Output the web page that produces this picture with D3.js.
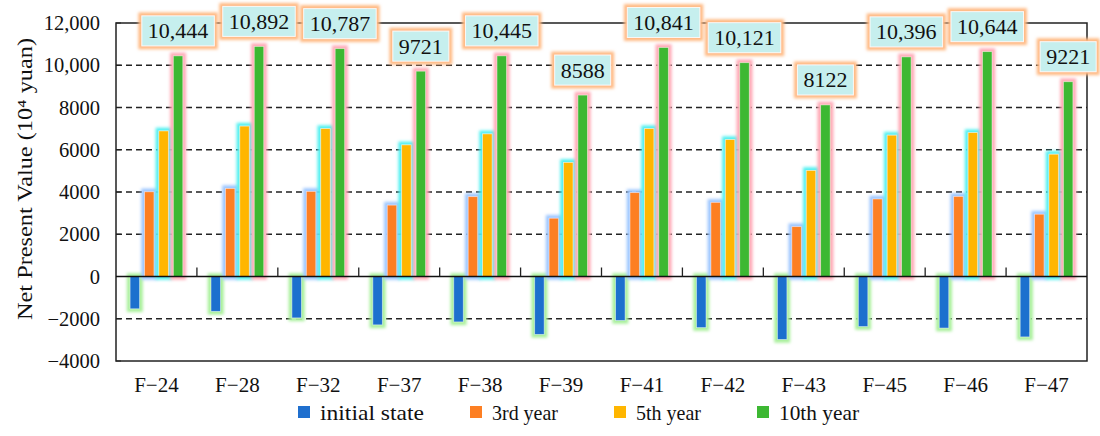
<!DOCTYPE html>
<html><head><meta charset="utf-8">
<script src="https://cdn.jsdelivr.net/npm/d3@7/dist/d3.min.js"></script>
<style>
html,body{margin:0;padding:0;background:#fff;}
svg{display:block;font-family:"Liberation Serif","Times New Roman",serif;}
</style></head>
<body>
<svg id="chart" width="1100" height="436"></svg>
<script>
const categories = ["F\u221224","F\u221228","F\u221232","F\u221237","F\u221238","F\u221239","F\u221241","F\u221242","F\u221243","F\u221245","F\u221246","F\u221247"];
const seriesNames = ["initial state","3rd year","5th year","10th year"];
const initialState = [-1530,-1650,-1960,-2290,-2150,-2740,-2080,-2420,-2980,-2370,-2440,-2860];
const year3 = [4010,4170,4030,3380,3780,2760,3970,3510,2360,3670,3790,2950];
const year5 = [6890,7120,7000,6230,6750,5400,7000,6480,5020,6690,6810,5790];
const year10 = [10444,10892,10787,9721,10445,8588,10841,10121,8122,10396,10644,9221];
const yTicks = [-4000,-2000,0,2000,4000,6000,8000,10000,12000];
const yLabel = "Net Present Value (10\u2074 yuan)";

const colors = ["#1f6fce","#fd7f23","#ffb600","#3db833"];
const glowColors = ["#a8f09a","#9cc6ff","#4ff0f0","#ffaab6"];

const svg = d3.select("#chart");
const L = 116, R = 1087, T = 23, B = 361;
const x0 = d3.scaleBand().domain(categories).range([L, R]).padding(0);
const y = d3.scaleLinear().domain([-4000, 12000]).range([B, T]);
const bw0 = x0.bandwidth();
const x1 = d3.scaleBand().domain(seriesNames).range([bw0*0.174, bw0*0.826]).paddingInner(0.34).paddingOuter(0);

const defs = svg.append("defs");
function glow(id, color, r, sd){
  const f = defs.append("filter").attr("id", id)
    .attr("x","-100%").attr("y","-100%").attr("width","300%").attr("height","300%");
  f.append("feMorphology").attr("in","SourceAlpha").attr("operator","dilate").attr("radius", r).attr("result","d");
  f.append("feGaussianBlur").attr("in","d").attr("stdDeviation", sd).attr("result","b");
  f.append("feFlood").attr("flood-color", color).attr("result","c");
  f.append("feComposite").attr("in","c").attr("in2","b").attr("operator","in").attr("result","g");
  const m = f.append("feMerge");
  m.append("feMergeNode").attr("in","g");
  m.append("feMergeNode").attr("in","SourceGraphic");
}
glowColors.forEach((c,i)=>glow("glow"+i, c, 2.8, 1.4));
glow("glowLabel", "#ffb982", 3.2, 1.6);

// grid
const grid = svg.append("g");
yTicks.filter(v => v !== 0 && v !== -4000 && v !== 12000).forEach(v => {
  grid.append("line").attr("x1", L).attr("x2", R).attr("y1", y(v)).attr("y2", y(v))
    .attr("stroke", "#222").attr("stroke-width", 1.3).attr("stroke-dasharray", "6,4");
});

// y axis labels
const yAxis = d3.axisLeft(y).tickValues(yTicks).tickSize(0).tickPadding(16)
  .tickFormat(v => (Math.abs(v) >= 10000 ? d3.format(",")(v) : String(v)).replace("-", "\u2212"));
const ya = svg.append("g").attr("transform", `translate(${L},0)`).call(yAxis);
ya.select(".domain").remove();
ya.selectAll("text").attr("font-size", 20.5).attr("fill", "#111").attr("font-family", "Liberation Serif");

// inner ticks on left axis
yTicks.forEach(v => {
  svg.append("line").attr("x1", L).attr("x2", L+5).attr("y1", y(v)).attr("y2", y(v)).attr("stroke","#222").attr("stroke-width",1);
});

// y label
svg.append("text").attr("transform", `translate(32,179) rotate(-90)`)
  .attr("text-anchor", "middle").attr("font-size", 21).attr("fill", "#111")
  .attr("textLength", 282).attr("lengthAdjust", "spacingAndGlyphs").text(yLabel);

// bars
const seriesData = [initialState, year3, year5, year10];
const barsG = svg.append("g");
seriesData.forEach((vals, si) => {
  barsG.append("g").selectAll("rect").data(vals).join("rect")
    .attr("x", (d,i) => x0(categories[i]) + x1(seriesNames[si]))
    .attr("width", x1.bandwidth())
    .attr("y", d => y(Math.max(0, d)))
    .attr("height", d => Math.abs(y(d) - y(0)))
    .attr("fill", colors[si])
    .attr("stroke", "rgba(255,255,255,0.55)").attr("stroke-width", 0.8)
    .attr("filter", `url(#glow${si})`);
});

// frame
svg.append("rect").attr("x", L).attr("y", T).attr("width", R-L).attr("height", B-T)
  .attr("fill","none").attr("stroke","#222").attr("stroke-width",1.5);
// zero line
svg.append("line").attr("x1", L).attr("x2", R).attr("y1", y(0)).attr("y2", y(0)).attr("stroke","#111").attr("stroke-width",1.5);
// category boundary ticks on zero line
categories.slice(1).forEach(c => {
  svg.append("line").attr("x1", x0(c)).attr("x2", x0(c)).attr("y1", y(0)).attr("y2", y(0)-9).attr("stroke","#222").attr("stroke-width",1.3);
});

// x axis labels
const xAxis = d3.axisBottom(x0).tickSize(0).tickPadding(0);
const xa = svg.append("g").attr("transform", `translate(0,${B})`).call(xAxis);
xa.select(".domain").remove();
xa.selectAll("text").attr("font-size", 21).attr("fill","#111").attr("dy", null).attr("y", 31).attr("font-family","Liberation Serif");

// value labels
const labG = svg.append("g");
year10.forEach((v, i) => {
  const cx = x0(categories[i]) + x1(seriesNames[3]) + x1.bandwidth()/2;
  const cy = y(v) - 25;
  const txt = v >= 10000 ? d3.format(",")(v) : String(v);
  const g = labG.append("g");
  const t = g.append("text").attr("x", cx).attr("y", cy + 7.5).attr("text-anchor","middle")
    .attr("font-size", 22).attr("fill","#111").text(txt);
  const w = t.node().getComputedTextLength() + 12;
  g.insert("rect", "text").attr("x", cx - w/2).attr("y", cy - 15).attr("width", w).attr("height", 30)
    .attr("fill", "#c6efee").attr("stroke","rgba(255,255,255,0.8)").attr("stroke-width",1)
    .attr("filter","url(#glowLabel)");
});

// legend
const legX = [298, 470, 614, 757];
const legW = [104, 66, 65, 80];
const lg = svg.append("g");
seriesNames.forEach((n, i) => {
  lg.append("rect").attr("x", legX[i]).attr("y", 406).attr("width", 12).attr("height", 12).attr("fill", colors[i]);
  lg.append("text").attr("x", legX[i] + 22).attr("y", 420).attr("font-size", 21).attr("fill","#111")
    .attr("textLength", legW[i]).attr("lengthAdjust", "spacingAndGlyphs").text(n);
});
</script>
</body></html>
